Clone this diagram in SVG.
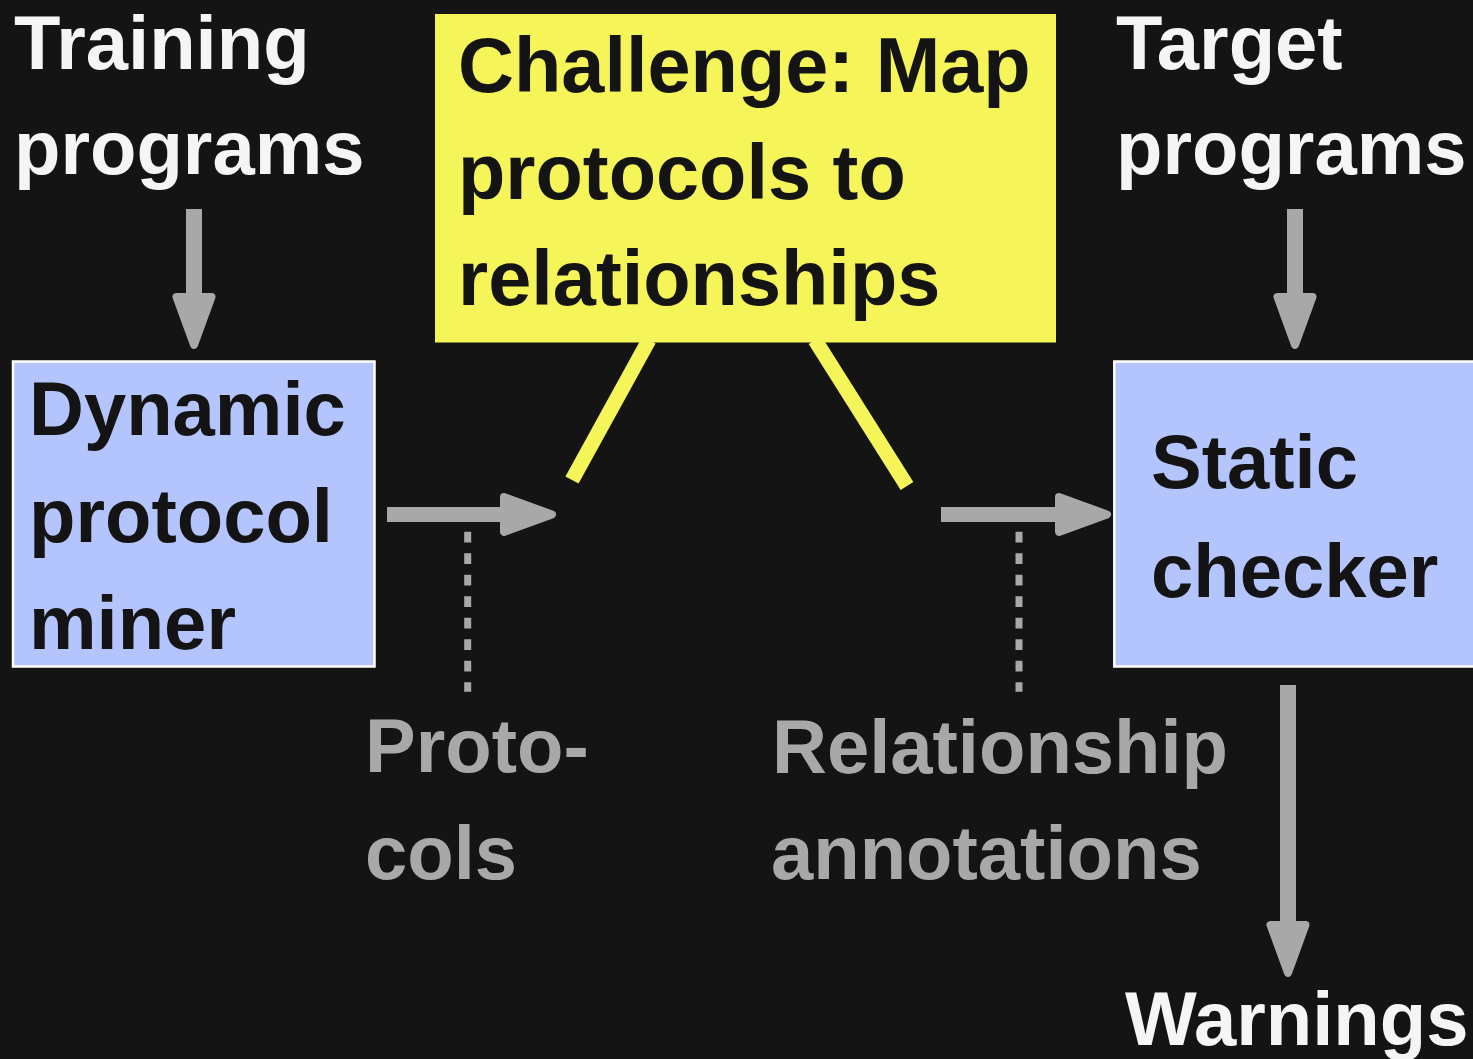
<svg xmlns="http://www.w3.org/2000/svg" width="1473" height="1059" viewBox="0 0 1473 1059">
  <style>
    text { font-family: "Liberation Sans", Arial, Helvetica, sans-serif; font-weight: bold; font-size: 76px; }
    .light { fill: #f5f5f5; }
    .dark { fill: #141414; }
    .note { font-size: 77.5px; }
    .muted { fill: #a8a8a8; }
    .box { fill: #b4c5fd; stroke: #ffffff; stroke-width: 2.5; }
    .flow { stroke: #a8a8a8; fill: none; stroke-linecap: butt; marker-end: url(#head); }
    .dots { stroke: #a8a8a8; stroke-width: 7; stroke-dasharray: 10.7 10.8; fill: none; }
    .callout { stroke: #f5f55a; stroke-width: 15; stroke-linecap: butt; }
  </style>
  <defs>
    <marker id="head" markerUnits="userSpaceOnUse" orient="auto" refX="0" refY="0" markerWidth="60" markerHeight="50" overflow="visible">
      <path d="M4,-17.5 L52,0 L4,17.5 Z" fill="#a8a8a8" stroke="#a8a8a8" stroke-width="8" stroke-linejoin="round"/>
    </marker>
  </defs>

  <rect x="0" y="0" width="1473" height="1059" fill="#141414"/>

  <!-- inputs -->
  <g id="training-programs">
    <text class="light" x="14" y="69">Training</text>
    <text class="light" x="14" y="174">programs</text>
  </g>
  <g id="target-programs">
    <text class="light" x="1116" y="69">Target</text>
    <text class="light" x="1116" y="174">programs</text>
  </g>

  <!-- callout note -->
  <g id="challenge">
    <rect x="435" y="14" width="621" height="328.5" fill="#f5f55a"/>
    <text class="dark note" x="458" y="92">Challenge: Map</text>
    <text class="dark note" x="458" y="199">protocols to</text>
    <text class="dark note" x="458" y="305">relationships</text>
    <line class="callout" x1="649" y1="340" x2="572" y2="480"/>
    <line class="callout" x1="815" y1="340" x2="907" y2="486"/>
  </g>

  <!-- tools -->
  <g id="miner">
    <rect class="box" x="13" y="361.5" width="361.5" height="305"/>
    <text class="dark" x="29" y="435">Dynamic</text>
    <text class="dark" x="29" y="542">protocol</text>
    <text class="dark" x="29" y="649">miner</text>
  </g>
  <g id="checker">
    <rect class="box" x="1114.3" y="361.5" width="370" height="305"/>
    <text class="dark" x="1151" y="488">Static</text>
    <text class="dark" x="1151" y="597">checker</text>
  </g>

  <!-- intermediate artifacts and output -->
  <g id="protocols">
    <text class="muted" x="365" y="772">Proto-</text>
    <text class="muted" x="365" y="879">cols</text>
  </g>
  <g id="annotations">
    <text class="muted" x="772" y="773">Relationship</text>
    <text class="muted" x="771" y="879">annotations</text>
  </g>
  <g id="warnings">
    <text class="light" x="1125" y="1045">Warnings</text>
  </g>

  <!-- connectors -->
  <g id="connectors">
    <line class="flow" stroke-width="16" x1="194" y1="209" x2="194" y2="293"/>
    <line class="flow" stroke-width="16" x1="1295" y1="209" x2="1295" y2="293"/>
    <line class="flow" stroke-width="15" x1="387" y1="514.5" x2="500" y2="514.5"/>
    <line class="flow" stroke-width="15" x1="941" y1="514.5" x2="1055" y2="514.5"/>
    <line class="flow" stroke-width="16" x1="1288" y1="685" x2="1288" y2="921"/>
    <line class="dots" x1="467.7" y1="531.7" x2="467.7" y2="691.7"/>
    <line class="dots" x1="1019" y1="531.7" x2="1019" y2="691.7"/>
  </g>
</svg>
